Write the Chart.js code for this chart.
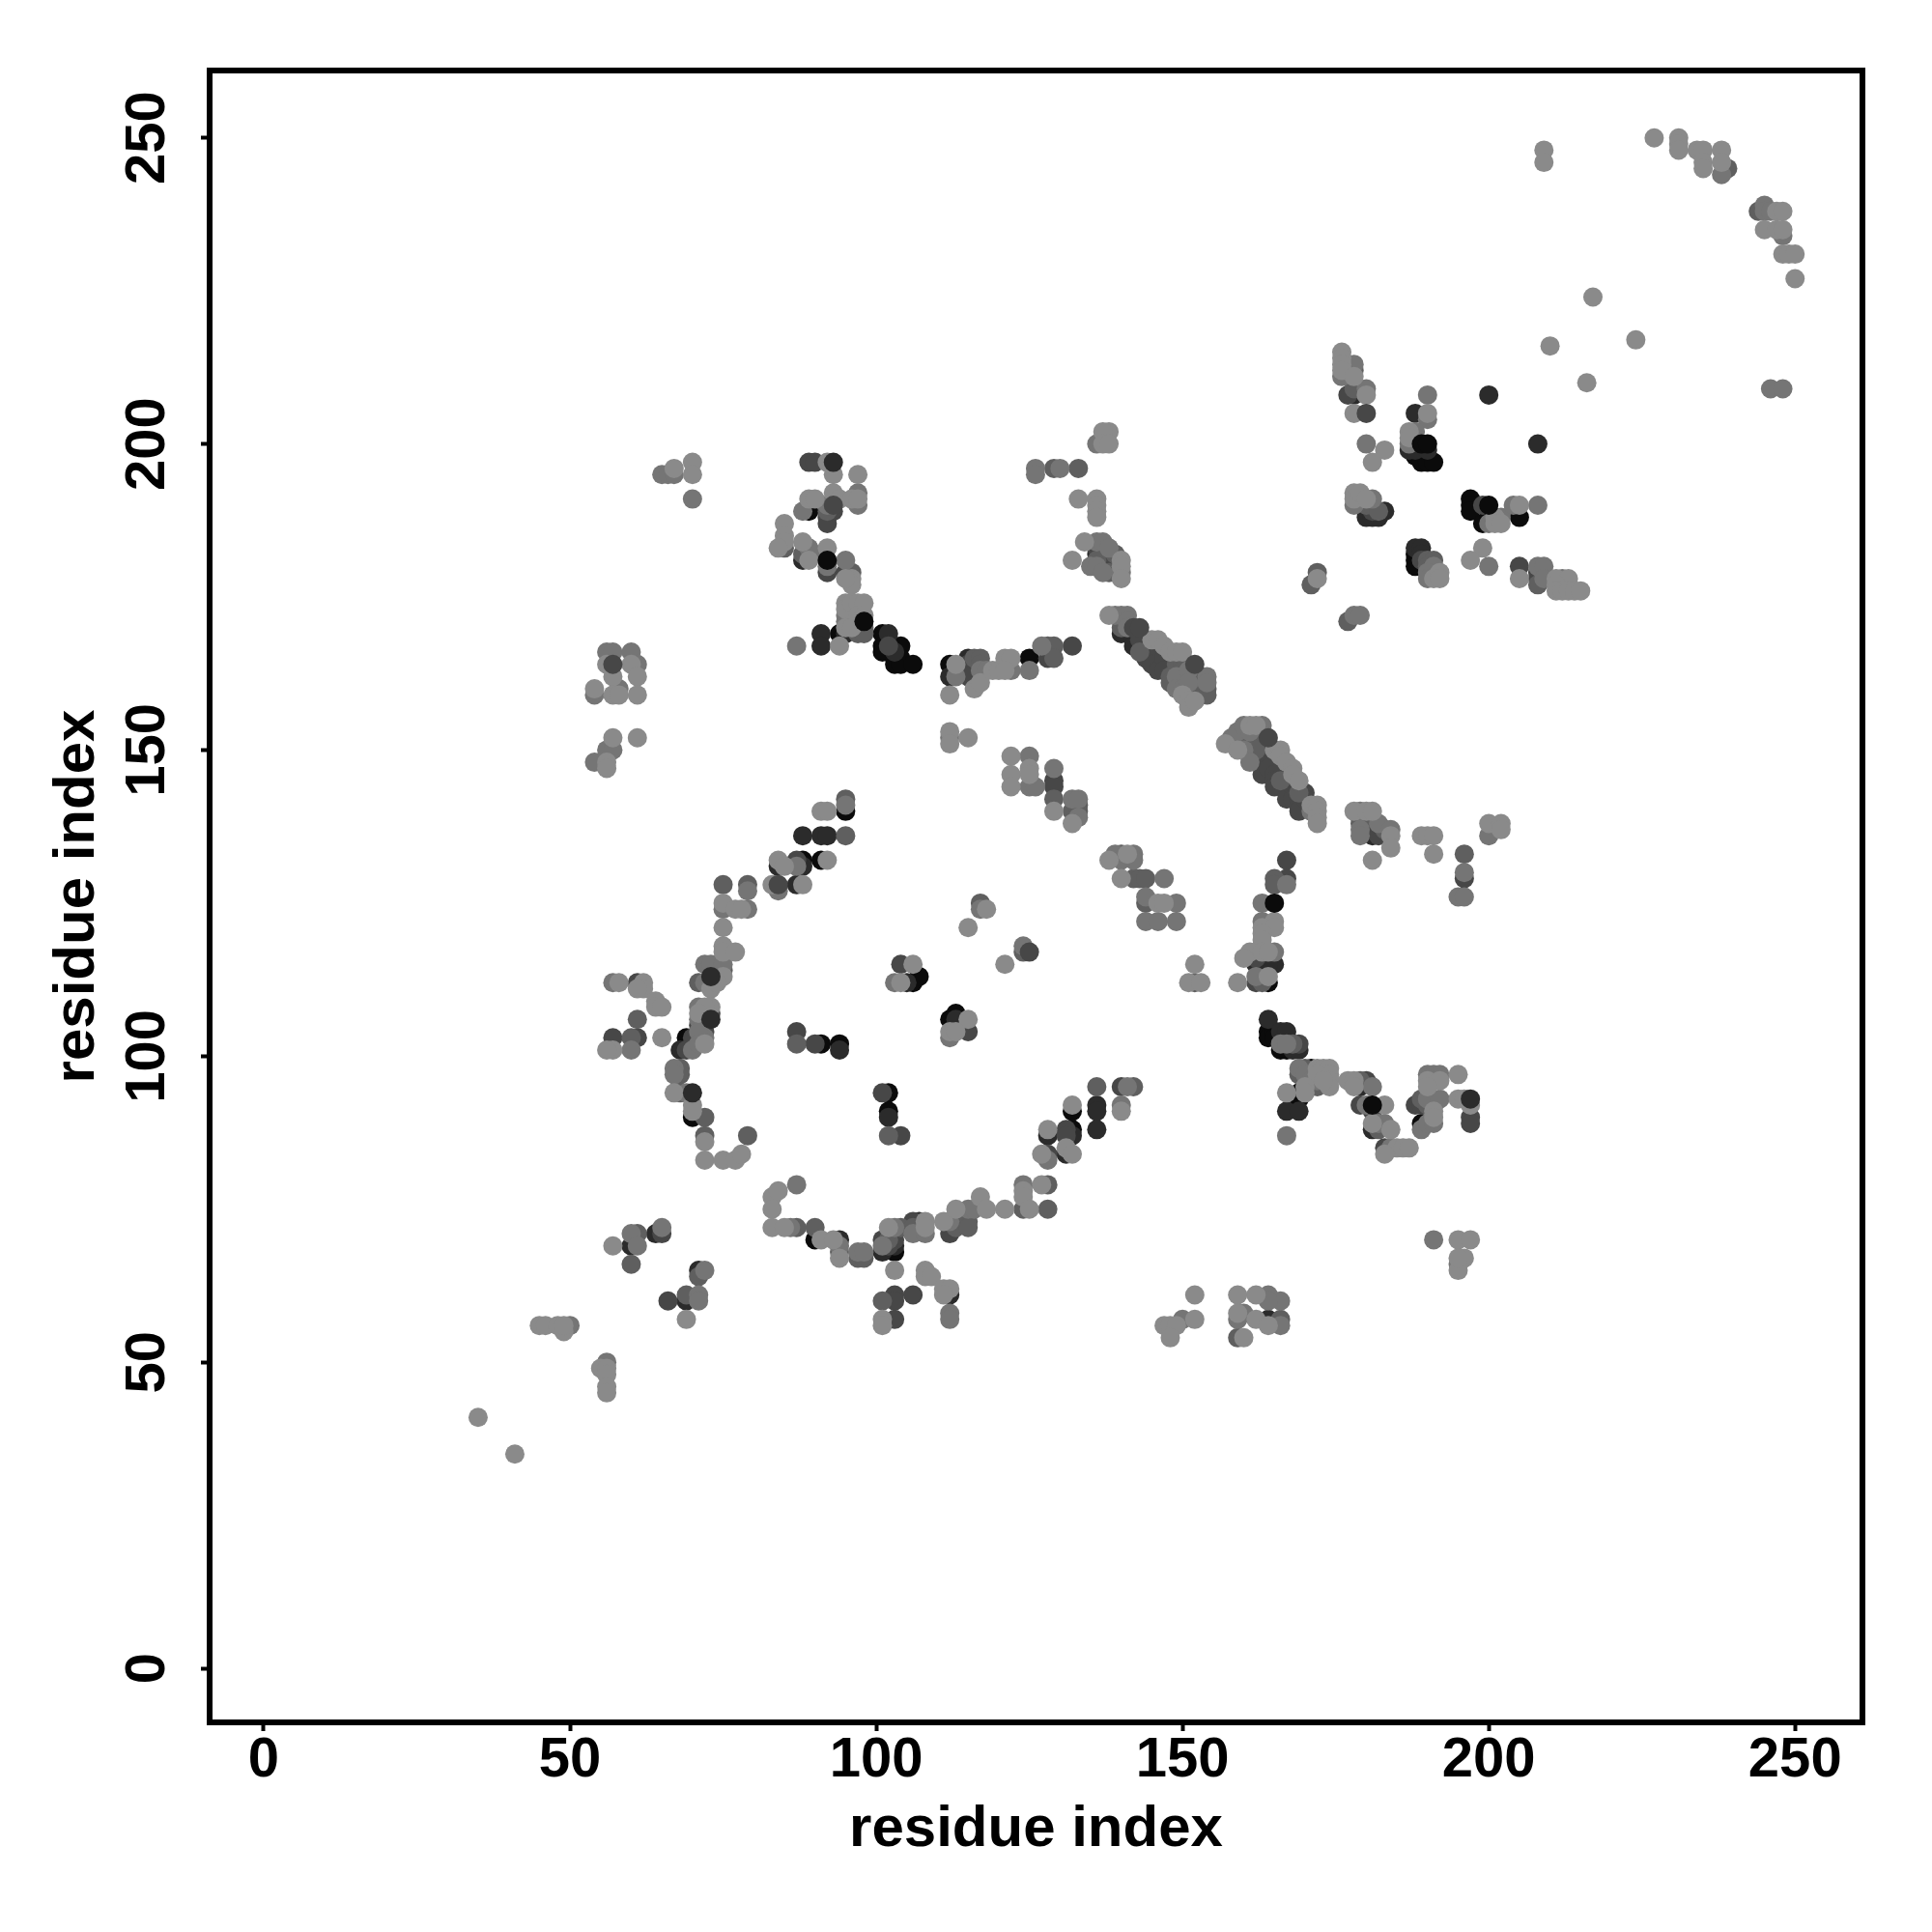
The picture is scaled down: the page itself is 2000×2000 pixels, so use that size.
<!DOCTYPE html>
<html>
<head>
<meta charset="utf-8">
<script src="https://cdn.jsdelivr.net/npm/chart.js@4"></script>
<style>
  html, body { margin: 0; padding: 0; background: #fff; }
  canvas { display: block; }
</style>
</head>
<body>
<canvas id="contactMap" width="2000" height="2000"></canvas>
<script>
// ── Data: [residue i, residue j, grey level 0 (black) … 5 (palest)] ───────────
const xTickValues = [0, 50, 100, 150, 200, 250];
const yTickValues = [0, 50, 100, 150, 200, 250];
const axisTitle   = 'residue index';

const upperLeftSpots = [[65,195,4],[66,195,4],[67,195,4],[67,196,5],[70,197,5],[70,195,5],[70,191,4]];
const topBranch = [[89,197,2],[90,197,2],[92,197,5],[93,195,5],[97,195,5],[89,191,5],[90,191,5],[88,189,4],[89,189,0],[92,190,4],[92,189,3],[92,188,2],[92,187,2],[93,192,5],[93,189,2],[94,191,5],[96,191,5],[97,192,4],[97,191,5],[97,190,4],[85,187,5],[85,185,5],[85,184,5],[85,183,3],[84,183,5],[88,184,5],[89,183,4],[88,182,3],[88,181,1],[89,181,5],[90,182,4],[92,183,5],[92,180,4],[92,179,2],[95,181,4],[95,179,2],[96,179,3],[96,178,5],[96,177,5],[95,178,5]];
const topBranchFoot = [[95,174,5],[95,173,5],[96,174,5],[97,174,5],[98,174,5],[96,172,4],[97,172,5],[98,172,5],[98,170,3],[97,169,3],[98,169,3],[95,172,4],[95,171,4],[95,170,5],[96,170,5],[91,169,1],[91,167,1],[87,167,4],[94,167,5],[94,169,0],[95,169,1],[101,169,0],[102,169,1],[101,167,0],[101,166,0],[102,167,2],[104,167,0],[103,166,1],[103,165,0],[103,164,0],[104,165,0],[104,164,0],[106,164,0]];
const leftBlock = [[56,166,4],[57,166,4],[60,166,4],[56,164,5],[60,164,5],[61,164,4],[57,162,5],[61,162,5],[54,160,5],[54,159,4],[57,159,5],[58,160,4],[58,159,5],[61,159,5],[57,152,5],[61,152,5],[56,150,4],[57,150,4],[54,148,4],[56,148,5],[56,147,5]];
const ringLeftUpper = [[95,142,3],[95,141,4],[95,140,0],[91,140,5],[92,140,5],[88,136,1],[91,136,1],[92,136,1],[95,136,3],[84,132,5],[84,131,1],[85,131,5],[87,132,2],[88,132,0],[87,131,4],[88,131,1],[91,132,0],[92,132,5],[75,128,3],[79,128,3],[79,127,4],[83,128,5],[84,127,4],[87,128,1],[88,128,5],[75,125,5],[75,124,4],[77,124,5],[78,124,5],[79,124,4],[75,121,5],[75,118,5],[75,117,5],[77,117,5],[72,115,4],[73,115,4],[75,115,4],[75,114,3],[75,113,5],[71,112,3],[72,112,4],[73,111,5],[74,112,5]];
const ringLeftMiddle = [[61,112,2],[62,112,5],[62,111,5],[61,111,5],[57,112,4],[58,112,5],[64,109,5],[64,108,5],[65,108,5],[61,106,3],[57,103,2],[60,103,3],[61,103,2],[65,103,5],[60,101,4],[57,101,5],[56,101,5],[71,108,4],[73,108,5],[72,108,5],[71,107,5],[73,107,2],[71,106,4],[72,106,4],[71,105,2],[72,104,2],[72,103,4],[72,102,5],[71,104,4],[69,103,0],[70,103,2],[68,101,1],[69,101,2],[70,101,4],[71,102,4]];
const ringLeftLower = [[67,98,4],[68,98,3],[67,97,4],[68,97,3],[67,94,5],[68,94,3],[69,94,4],[70,92,5],[70,91,5],[70,90,0],[72,90,3],[72,87,3],[72,86,5],[79,87,3],[72,83,5],[75,83,5],[77,83,5],[78,84,5]];
const ringInside = [[87,104,2],[87,102,3],[90,102,2],[91,102,0],[94,102,0],[94,101,1],[101,94,2],[102,94,0],[102,91,0],[102,90,1],[102,87,3],[104,87,2],[104,115,2],[106,115,5],[103,112,4],[104,112,5],[106,112,0],[107,113,0],[105,112,1],[117,125,3],[117,124,4],[118,124,5],[115,121,5],[121,115,5],[112,106,0],[113,107,0],[115,106,5],[113,106,1],[112,104,5],[112,103,4],[113,104,5],[115,104,2],[124,118,4],[124,117,3]];
const upperRow = [[112,164,0],[112,162,1],[113,164,5],[113,162,4],[112,159,5],[115,165,1],[115,164,2],[115,163,1],[115,162,2],[116,165,3],[116,162,1],[116,160,5],[117,165,3],[117,164,3],[117,161,5],[117,163,4],[118,163,4],[119,163,5],[120,163,5],[121,165,5],[122,165,5],[121,163,5],[122,163,4],[125,165,0],[125,163,4],[127,167,4],[128,167,3],[129,167,3],[128,165,2],[129,165,3],[132,167,2],[112,153,5],[112,152,4],[112,151,5],[115,152,5]];
const innerSteps = [[122,149,5],[122,146,5],[122,144,5],[125,149,4],[125,147,5],[125,146,5],[125,144,4],[126,144,4],[129,147,4],[129,145,2],[129,144,2],[129,142,3],[129,140,5],[132,142,4],[133,142,4],[132,140,3],[133,141,3],[133,140,3],[132,138,5],[133,139,4],[138,132,5],[139,133,4],[140,133,3],[141,133,5],[142,133,4],[142,132,4],[140,132,4],[140,129,5],[142,129,3],[143,129,3],[144,129,3],[147,129,4],[144,126,4],[144,125,3],[146,125,5],[147,125,5],[149,125,4],[144,122,4],[146,122,4],[149,122,4],[152,115,5],[151,112,5],[152,112,3],[153,112,5],[159,112,5]];
const ringRight = [[167,132,2],[165,129,3],[167,129,2],[165,128,3],[167,128,4],[163,125,4],[163,122,4],[165,122,5],[163,121,5],[165,121,5],[163,120,5],[163,119,5],[163,118,4],[161,117,5],[160,116,5],[162,116,2],[162,115,1],[163,117,5],[164,117,5],[165,117,4],[165,115,1],[163,115,1],[164,115,1],[162,112,2],[163,112,3],[162,113,4],[164,113,5],[164,112,0]];
const uprightSpots = [[126,196,4],[126,195,4],[129,196,3],[130,196,4],[133,196,3],[133,191,5],[136,191,5],[136,190,5],[136,189,5],[136,188,5],[138,202,5],[137,202,5],[136,200,4],[137,200,5],[138,200,5],[134,184,5],[136,184,4],[137,184,4],[138,183,4],[136,183,2],[136,182,1],[136,181,3],[137,181,2],[135,180,4],[136,180,4],[138,180,2],[137,179,4],[138,179,3],[132,181,5],[139,182,3],[140,181,5],[140,180,5],[140,179,4],[140,178,5]];
const diagonalOne = [[138,172,5],[139,172,4],[140,172,4],[141,172,4],[140,170,3],[140,169,1],[141,171,4],[141,170,4],[142,168,1],[142,167,1],[143,169,2],[143,168,2],[143,166,3],[144,168,1],[144,166,2],[144,165,2],[145,168,5],[145,167,1],[145,165,2],[145,164,2],[146,168,5],[146,166,0],[146,164,1],[146,163,2],[147,167,5],[147,165,2],[147,163,2],[148,166,5],[148,164,0],[148,162,3],[148,161,3],[149,166,5],[149,164,3],[149,163,1],[149,162,4],[149,160,4],[150,166,5],[150,164,3],[150,163,3],[150,162,3],[150,161,3],[150,160,4],[150,159,5],[151,163,4],[151,162,3],[151,161,4],[151,160,3],[151,158,5],[151,157,5],[152,162,3],[152,161,3],[152,160,3],[152,159,3],[152,158,5],[153,162,3],[153,161,3],[153,160,3],[153,159,3],[154,162,4],[154,161,4],[154,160,3],[154,159,3]];
const diagonalTwo = [[157,151,5],[158,152,4],[159,153,4],[159,152,3],[159,150,5],[160,154,4],[160,152,3],[160,151,3],[160,150,4],[161,154,5],[161,153,4],[161,151,3],[161,149,3],[161,148,4],[162,154,5],[162,152,3],[162,150,3],[162,149,1],[163,154,4],[163,151,2],[163,150,1],[163,148,2],[163,146,2],[164,149,0],[164,148,2],[164,147,2],[165,150,5],[165,148,0],[165,146,2],[165,145,2],[165,144,2],[166,150,5],[166,149,5],[166,147,1],[166,145,3],[167,148,5],[167,146,1],[167,144,2],[167,142,2],[168,147,5],[168,146,5],[168,144,2],[168,142,2],[169,145,5],[169,143,3],[169,142,2],[169,141,1],[169,140,2],[170,143,2],[170,142,2],[171,141,5],[171,140,4],[172,141,5],[172,140,5],[172,139,5],[172,138,5]];
const diagonalTwoSide = [[178,140,5],[179,140,4],[180,140,5],[181,140,5],[179,139,3],[179,138,3],[179,137,4],[179,136,4],[181,138,2],[181,137,1],[181,136,1],[182,138,4],[182,137,2],[182,136,2],[183,137,3],[184,137,4],[184,136,5],[184,134,5],[181,132,5],[189,136,5],[190,136,5],[191,136,5],[191,133,5],[196,133,3],[196,130,4],[196,129,2],[195,126,4],[196,126,4],[200,138,5],[200,136,4],[202,138,5],[202,137,5]];
const lowerRight = [[164,106,1],[164,104,0],[164,103,0],[165,104,0],[166,104,1],[167,104,1],[166,102,4],[166,101,0],[167,102,4],[167,101,0],[168,101,1],[168,102,3],[169,102,2],[169,101,1],[165,103,0],[169,98,4],[170,98,3],[170,97,4],[171,98,0],[172,98,5],[173,98,5],[174,98,5],[174,97,5],[174,96,5],[174,95,5],[172,97,5],[172,96,4],[172,95,3],[173,96,5],[171,96,4],[170,95,5],[169,97,3],[167,94,5],[169,94,0],[169,93,0],[170,94,5],[167,91,1],[169,91,1],[167,87,4]];
const lowerRightTail = [[177,96,5],[178,96,5],[178,95,5],[179,96,3],[179,95,1],[180,96,2],[181,95,4],[179,92,2],[180,92,4],[183,92,5],[181,91,2],[181,89,5],[181,88,1],[182,89,4],[182,88,3],[183,89,4],[184,88,5],[183,85,2],[184,85,4],[185,85,5],[186,85,5],[187,85,5],[183,84,5],[190,97,4],[191,97,4],[192,97,4],[195,97,5],[190,96,5],[191,96,4],[192,96,5],[190,95,5],[188,92,2],[189,93,3],[189,92,2],[190,93,4],[190,92,3],[191,92,3],[191,91,5],[192,93,4],[195,93,5],[196,93,5],[197,92,5],[197,90,2],[197,89,2],[189,89,0],[189,88,4],[190,89,4],[191,90,5],[191,89,4]];
const upperRightA = [[176,215,5],[176,214,5],[176,213,5],[176,212,5],[176,211,4],[178,213,4],[178,212,3],[178,211,5],[177,208,2],[178,208,1],[178,209,3],[180,209,4],[180,208,5],[178,205,5],[190,208,4],[188,205,1],[190,205,5],[190,204,4],[187,202,5],[188,202,4],[187,201,5],[187,200,4],[187,199,1],[188,199,1],[189,199,0],[190,199,1],[188,198,0],[189,197,0],[190,197,0],[191,197,0],[180,200,4],[183,199,5],[181,197,5],[200,208,1],[208,200,1]];
const upperRightB = [[178,192,5],[178,191,5],[178,190,4],[179,192,5],[180,191,5],[181,191,4],[180,190,3],[181,190,3],[180,188,1],[181,188,1],[182,188,1],[183,189,1],[182,189,3],[181,189,2],[197,191,0],[197,190,0],[197,189,0],[199,190,2],[199,187,0],[200,188,0],[200,187,4],[201,188,5],[202,188,4],[201,187,5],[202,187,5],[204,190,4],[205,190,5],[205,188,0],[208,190,4]];
const upperRightC = [[199,183,5],[197,181,5],[200,180,4],[205,180,2],[205,178,5],[208,180,4],[209,180,4],[208,179,2],[208,178,2],[208,177,3],[209,178,4],[211,178,5],[212,178,4],[213,178,5],[211,177,5],[211,176,5],[212,176,5],[213,176,5],[214,176,5],[215,176,5],[188,183,1],[189,183,1],[188,182,0],[189,182,1],[188,181,0],[188,180,0],[189,181,2],[190,181,3],[191,181,3],[190,180,3],[191,180,4],[190,179,4],[190,178,4],[191,178,5],[192,179,5],[192,178,5],[172,179,3],[172,178,5],[171,177,3],[178,172,4],[179,172,4],[177,171,3]];
const farCorner = [[209,248,5],[209,246,5],[227,250,5],[231,250,5],[231,249,5],[231,248,5],[234,248,5],[235,248,5],[235,246,5],[235,245,5],[238,248,5],[238,246,5],[238,244,4],[239,245,3],[244,238,3],[245,239,4],[245,238,4],[246,238,4],[247,238,5],[248,238,5],[245,235,5],[247,235,5],[248,235,5],[248,234,4],[248,231,5],[249,231,5],[250,231,5],[250,227,5],[217,224,5],[224,217,5],[210,216,5],[216,210,5],[246,209,4],[248,209,4]];
const lowerLeftSpots = [[35,41,5],[41,35,5],[45,56,5],[46,56,5],[48,56,5],[49,55,5],[49,56,5],[50,56,4],[56,50,4],[55,49,5],[56,49,5],[56,48,5],[56,46,5],[56,45,5],[57,69,5],[60,71,4],[61,71,3],[60,69,1],[61,69,4],[60,66,3],[64,71,1],[65,72,4],[65,71,2],[66,60,2],[69,61,3],[69,60,1],[71,61,4],[71,60,4],[69,57,5],[71,65,1],[71,64,3],[72,65,4]];
const ringBottom = [[83,77,5],[84,78,5],[83,75,5],[87,79,4],[83,72,5],[85,72,5],[86,72,4],[87,72,3],[90,72,3],[90,70,0],[91,70,5],[93,70,5],[94,70,1],[94,69,4],[94,68,3],[94,67,5],[97,68,4],[98,68,4],[97,67,3],[98,67,3],[101,70,2],[101,69,4],[101,68,1],[102,72,5],[102,70,3],[103,72,4],[103,70,2],[103,69,1],[103,68,0],[102,69,2],[104,72,3],[106,73,2],[106,72,3],[106,71,4],[107,73,1],[108,73,5],[108,72,5],[108,71,4],[111,73,5],[113,75,5],[113,73,1],[112,73,4],[112,71,2],[113,72,3],[115,75,4],[116,75,4],[115,73,3],[115,72,3],[117,77,5],[118,75,5],[121,75,5],[124,79,4],[124,78,5],[124,77,5],[124,75,3],[125,75,5],[127,79,5],[128,79,3],[128,75,3]];
const ringBottomRight = [[128,88,5],[128,87,1],[128,84,2],[128,83,4],[127,84,5],[131,88,2],[132,88,0],[131,87,2],[132,87,1],[131,85,5],[132,84,5],[131,84,1],[136,95,3],[136,92,1],[136,91,1],[136,88,1],[132,92,5],[132,91,0],[140,95,2],[141,95,4],[142,95,3],[140,92,4],[140,91,5]];
const belowRing = [[103,65,5],[108,65,5],[108,64,5],[109,64,5],[111,62,5],[112,62,5],[111,61,5],[112,61,1],[112,58,4],[112,57,4],[101,60,3],[103,61,2],[103,60,2],[106,61,2],[101,57,5],[101,56,5],[103,57,2]];
const bottomMiddle = [[152,61,5],[150,57,4],[152,57,5],[147,56,5],[148,56,5],[149,56,5],[148,54,5],[159,61,5],[162,61,5],[164,61,4],[166,60,4],[164,60,4],[159,58,5],[159,57,4],[160,58,4],[162,57,5],[164,57,1],[166,57,3],[164,56,5],[166,56,4],[159,54,3],[160,54,5],[191,70,4],[195,70,5],[197,70,5],[196,67,5],[195,66,4],[195,65,5],[195,67,5]];
// dark contacts that sit above the pale ones in the picture
const darkOnTop = [[93,197,1],[92,181,0],[98,171,0],[93,190,2],[73,106,1],[73,113,1],[84,128,2],[57,164,2],[165,125,0],[181,92,0],[197,93,1],[189,200,0],[190,200,0],[200,190,0],[70,94,1],[180,205,2],[125,117,2],[152,164,2],[164,152,2],[142,170,2],[143,170,2]];

const greyLevels = ['#0b0b0b', '#2b2b2b', '#474747', '#5f5f5f', '#757575', '#8a8a8a'];

// ── Chart ─────────────────────────────────────────────────────────────────────
const contacts = [
  ...upperLeftSpots, ...topBranch, ...topBranchFoot, ...leftBlock, ...ringLeftUpper,
  ...ringLeftMiddle, ...ringLeftLower, ...ringInside, ...upperRow, ...innerSteps,
  ...ringRight, ...uprightSpots, ...diagonalOne, ...diagonalTwo, ...diagonalTwoSide,
  ...lowerRight, ...lowerRightTail, ...upperRightA, ...upperRightB, ...upperRightC,
  ...farCorner, ...lowerLeftSpots, ...ringBottom, ...ringBottomRight, ...belowRing,
  ...bottomMiddle,
].sort((a, b) => a[2] - b[2]).concat(darkOnTop);  // pale over dark, then the exceptions

const font = { family: '"Liberation Sans", Arial, sans-serif', weight: 'bold' };

// full box round the plot, scale borders only give two sides
const framePlugin = {
  id: 'frame',
  afterDraw(chart) {
    const { ctx, chartArea: a } = chart;
    ctx.save();
    ctx.strokeStyle = '#000';
    ctx.lineWidth = 6;
    ctx.strokeRect(a.left, a.top, a.right - a.left, a.bottom - a.top);
    ctx.restore();
  },
};

new Chart(document.getElementById('contactMap').getContext('2d'), {
  type: 'scatter',
  data: {
    datasets: [{
      data: contacts.map(c => ({ x: c[0], y: c[1] })),
      pointRadius: 10,
      pointBorderWidth: 0,
      pointBackgroundColor: contacts.map(c => greyLevels[c[2]]),
    }],
  },
  options: {
    responsive: false,
    devicePixelRatio: 1,
    animation: false,
    layout: { padding: { top: 73, right: 72, left: 0, bottom: 0 } },
    plugins: { legend: { display: false }, tooltip: { enabled: false } },
    scales: {
      x: {
        type: 'linear',
        min: -8.83,
        max: 261,
        afterFit(s) { s.height = 217; },
        afterBuildTicks(s) { s.ticks = xTickValues.map(v => ({ value: v })); },
        grid: { display: true, drawOnChartArea: false, drawTicks: true, tickLength: 9, tickWidth: 4, tickColor: '#000' },
        border: { display: false },
        ticks: { color: '#000', padding: -4, maxRotation: 0, font: { ...font, size: 58 } },
        title: { display: true, text: axisTitle, color: '#000', font: { ...font, size: 60 }, padding: { top: 0, bottom: 70 } },
      },
      y: {
        type: 'linear',
        min: -8.83,
        max: 261,
        afterFit(s) { s.width = 217; },
        afterBuildTicks(s) { s.ticks = yTickValues.map(v => ({ value: v })); },
        grid: { display: true, drawOnChartArea: false, drawTicks: true, tickLength: 9, tickWidth: 4, tickColor: '#000' },
        border: { display: false },
        ticks: { color: '#000', padding: 6, minRotation: 90, maxRotation: 90, crossAlign: 'center', font: { ...font, size: 58 } },
        title: { display: true, text: axisTitle, color: '#000', font: { ...font, size: 60 }, padding: { top: 44, bottom: 0 } },
      },
    },
  },
  plugins: [framePlugin],
});
</script>
</body>
</html>
